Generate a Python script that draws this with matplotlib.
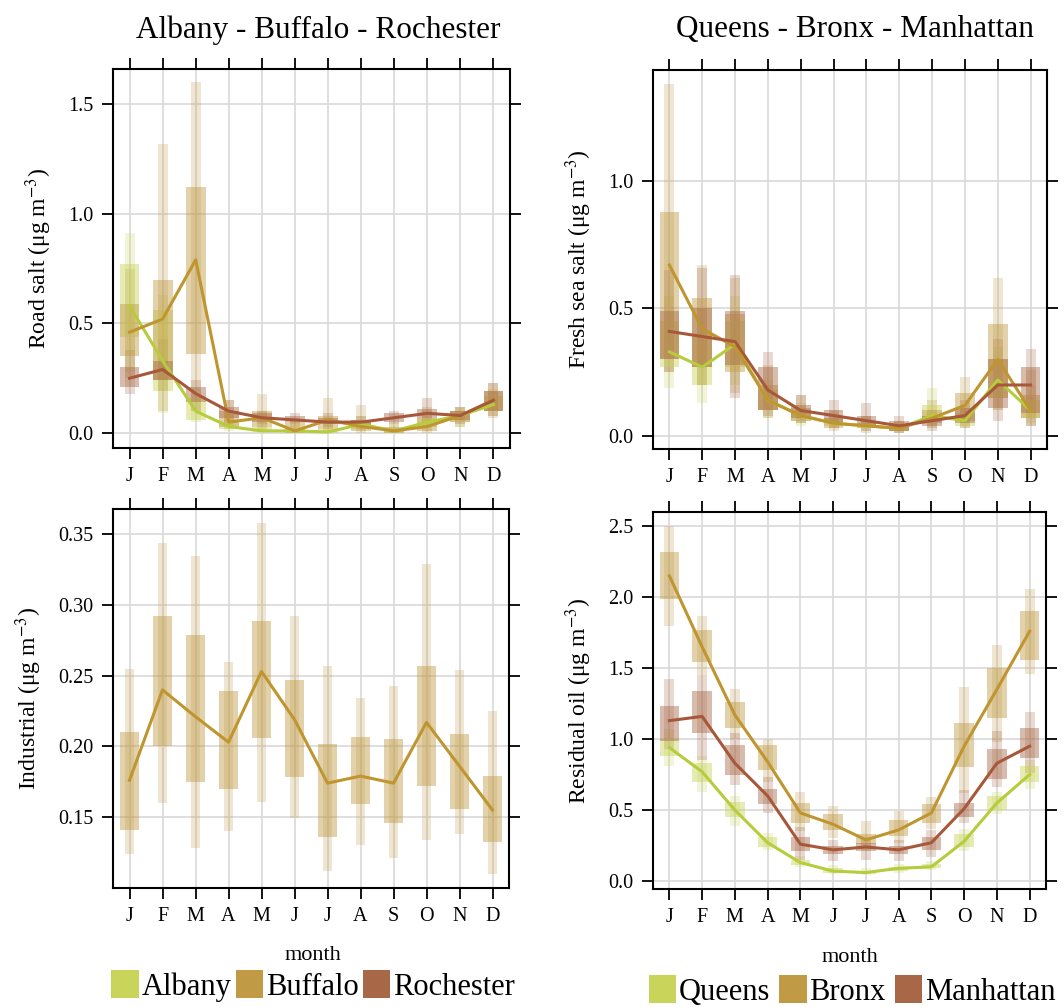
import numpy as np
import matplotlib
matplotlib.use("Agg")
import matplotlib.pyplot as plt
from matplotlib.patches import Rectangle, Patch

plt.rcParams['font.family'] = ['Liberation Serif', 'DejaVu Serif']
plt.rcParams['mathtext.fontset'] = 'stix'

months = ['J', 'F', 'M', 'A', 'M', 'J', 'J', 'A', 'S', 'O', 'N', 'D']

# ---- Road salt (upstate) ----
albany_med = [0.58, 0.33, 0.10, 0.03, 0.01, 0.01, 0.005, 0.04, 0.01, 0.05, 0.08, 0.13]
albany_q1 = [0.44, 0.19, 0.06, 0.02, 0.005, 0.0, 0.0, 0.02, 0.0, 0.03, 0.05, 0.10]
albany_q3 = [0.77, 0.56, 0.16, 0.05, 0.03, 0.02, 0.02, 0.06, 0.02, 0.07, 0.10, 0.17]
albany_lo = [0.28, 0.09, 0.05, 0.01, 0.0, 0.0, 0.0, 0.01, 0.0, 0.01, 0.03, 0.08]
albany_hi = [0.91, 0.63, 0.20, 0.08, 0.05, 0.04, 0.04, 0.08, 0.04, 0.10, 0.12, 0.20]

buffalo_med = [0.46, 0.52, 0.79, 0.05, 0.07, 0.01, 0.06, 0.03, 0.01, 0.03, 0.08, 0.15]
buffalo_q1 = [0.35, 0.24, 0.36, 0.03, 0.03, 0.0, 0.02, 0.01, 0.0, 0.01, 0.05, 0.10]
buffalo_q3 = [0.59, 0.70, 1.12, 0.10, 0.10, 0.05, 0.08, 0.06, 0.03, 0.07, 0.10, 0.19]
buffalo_lo = [0.25, 0.10, 0.10, 0.02, 0.01, 0.0, 0.0, 0.0, 0.0, 0.0, 0.03, 0.07]
buffalo_hi = [0.75, 1.32, 1.60, 0.15, 0.18, 0.07, 0.16, 0.13, 0.05, 0.12, 0.12, 0.23]

rochester_med = [0.25, 0.29, 0.18, 0.10, 0.07, 0.06, 0.05, 0.05, 0.07, 0.09, 0.08, 0.15]
rochester_q1 = [0.21, 0.24, 0.14, 0.07, 0.05, 0.05, 0.04, 0.03, 0.05, 0.07, 0.06, 0.10]
rochester_q3 = [0.30, 0.33, 0.21, 0.12, 0.09, 0.08, 0.07, 0.06, 0.09, 0.11, 0.10, 0.19]
rochester_lo = [0.18, 0.19, 0.10, 0.05, 0.04, 0.04, 0.03, 0.02, 0.04, 0.05, 0.04, 0.08]
rochester_hi = [0.38, 0.43, 0.24, 0.15, 0.10, 0.09, 0.09, 0.08, 0.10, 0.16, 0.12, 0.23]

# ---- Industrial (Buffalo) ----
ind_med = [0.176, 0.240, 0.221, 0.203, 0.253, 0.219, 0.174, 0.179, 0.174, 0.217, 0.186, 0.155]
ind_q1 = [0.141, 0.200, 0.175, 0.170, 0.206, 0.178, 0.136, 0.159, 0.146, 0.172, 0.156, 0.132]
ind_q3 = [0.210, 0.292, 0.279, 0.239, 0.289, 0.247, 0.202, 0.207, 0.205, 0.257, 0.209, 0.179]
ind_lo = [0.124, 0.160, 0.128, 0.140, 0.161, 0.149, 0.112, 0.130, 0.121, 0.134, 0.138, 0.110]
ind_hi = [0.255, 0.344, 0.335, 0.260, 0.358, 0.292, 0.257, 0.234, 0.243, 0.329, 0.254, 0.225]

# ---- Fresh sea salt (NYC) ----
queens_ss_med = [0.33, 0.27, 0.36, 0.14, 0.08, 0.05, 0.04, 0.03, 0.08, 0.06, 0.22, 0.10]
queens_ss_q1 = [0.27, 0.20, 0.27, 0.10, 0.06, 0.04, 0.03, 0.02, 0.05, 0.04, 0.15, 0.07]
queens_ss_q3 = [0.45, 0.40, 0.45, 0.18, 0.10, 0.07, 0.05, 0.04, 0.12, 0.09, 0.30, 0.14]
queens_ss_lo = [0.19, 0.13, 0.20, 0.07, 0.04, 0.03, 0.02, 0.01, 0.03, 0.03, 0.10, 0.05]
queens_ss_hi = [0.55, 0.50, 0.55, 0.22, 0.13, 0.09, 0.08, 0.06, 0.19, 0.12, 0.35, 0.20]

bronx_ss_med = [0.67, 0.42, 0.35, 0.14, 0.08, 0.05, 0.04, 0.03, 0.07, 0.12, 0.30, 0.10]
bronx_ss_q1 = [0.30, 0.27, 0.25, 0.10, 0.06, 0.03, 0.03, 0.02, 0.05, 0.06, 0.15, 0.07]
bronx_ss_q3 = [0.88, 0.54, 0.48, 0.20, 0.11, 0.07, 0.05, 0.04, 0.10, 0.17, 0.44, 0.16]
bronx_ss_lo = [0.25, 0.20, 0.17, 0.07, 0.05, 0.02, 0.01, 0.01, 0.03, 0.04, 0.10, 0.04]
bronx_ss_hi = [1.38, 0.67, 0.62, 0.28, 0.16, 0.10, 0.08, 0.06, 0.14, 0.23, 0.62, 0.26]

manh_ss_med = [0.41, 0.39, 0.37, 0.18, 0.10, 0.08, 0.06, 0.04, 0.06, 0.08, 0.20, 0.20]
manh_ss_q1 = [0.30, 0.27, 0.28, 0.10, 0.07, 0.05, 0.04, 0.02, 0.04, 0.05, 0.11, 0.09]
manh_ss_q3 = [0.49, 0.50, 0.49, 0.27, 0.12, 0.10, 0.08, 0.06, 0.08, 0.11, 0.30, 0.27]
manh_ss_lo = [0.25, 0.20, 0.15, 0.08, 0.05, 0.03, 0.02, 0.01, 0.02, 0.03, 0.06, 0.04]
manh_ss_hi = [0.65, 0.66, 0.63, 0.33, 0.16, 0.14, 0.13, 0.08, 0.10, 0.14, 0.38, 0.34]

# ---- Residual oil (NYC) ----
queens_oil_med = [0.94, 0.77, 0.50, 0.27, 0.13, 0.07, 0.06, 0.09, 0.10, 0.28, 0.55, 0.75]
queens_oil_q1 = [0.88, 0.70, 0.45, 0.24, 0.11, 0.06, 0.05, 0.07, 0.09, 0.24, 0.50, 0.70]
queens_oil_q3 = [1.00, 0.83, 0.56, 0.31, 0.15, 0.09, 0.07, 0.10, 0.12, 0.33, 0.60, 0.81]
queens_oil_lo = [0.81, 0.63, 0.39, 0.22, 0.10, 0.05, 0.04, 0.06, 0.08, 0.21, 0.47, 0.65]
queens_oil_hi = [1.07, 0.88, 0.60, 0.34, 0.18, 0.11, 0.09, 0.12, 0.14, 0.37, 0.63, 0.85]

bronx_oil_med = [2.15, 1.65, 1.17, 0.84, 0.48, 0.40, 0.29, 0.36, 0.48, 0.95, 1.35, 1.76]
bronx_oil_q1 = [1.99, 1.54, 1.08, 0.78, 0.41, 0.36, 0.26, 0.32, 0.41, 0.80, 1.15, 1.56]
bronx_oil_q3 = [2.32, 1.77, 1.26, 0.96, 0.55, 0.47, 0.33, 0.43, 0.54, 1.11, 1.50, 1.90]
bronx_oil_lo = [1.80, 1.45, 1.00, 0.70, 0.35, 0.30, 0.22, 0.27, 0.37, 0.62, 0.98, 1.46]
bronx_oil_hi = [2.50, 1.87, 1.35, 1.00, 0.63, 0.53, 0.42, 0.49, 0.59, 1.37, 1.66, 2.06]

manh_oil_med = [1.13, 1.16, 0.83, 0.60, 0.26, 0.22, 0.24, 0.22, 0.27, 0.51, 0.83, 0.95]
manh_oil_q1 = [0.99, 1.04, 0.75, 0.54, 0.21, 0.19, 0.21, 0.19, 0.22, 0.45, 0.72, 0.87]
manh_oil_q3 = [1.23, 1.34, 0.96, 0.65, 0.31, 0.25, 0.27, 0.25, 0.31, 0.55, 0.93, 1.08]
manh_oil_lo = [0.93, 0.85, 0.68, 0.48, 0.15, 0.14, 0.15, 0.14, 0.17, 0.41, 0.66, 0.76]
manh_oil_hi = [1.42, 1.45, 1.04, 0.73, 0.38, 0.29, 0.31, 0.29, 0.36, 0.64, 1.06, 1.19]

green_fill, gold_fill, brown_fill = '#c8d45a', '#c09a45', '#a86848'
green_line, gold_line, brown_line = '#b6cc3c', '#bf9530', '#a8583a'

W, H = 1064, 1007
fig = plt.figure(figsize=(W / 100, H / 100), dpi=100)


def px_axes(x0, x1, y0, y1):
    return fig.add_axes([x0 / W, 1 - y1 / H, (x1 - x0) / W, (y1 - y0) / H])


def draw_panel(ax, series, ylim, yticks, ylabels, ylabel):
    x = np.arange(1, 13)
    ax.set_xlim(0.5, 12.5)
    ax.set_ylim(*ylim)
    for v in x:
        ax.axvline(v, color='#d9d9d9', lw=1.2, zorder=0)
    for v in yticks:
        ax.axhline(v, color='#d9d9d9', lw=1.2, zorder=0)
    for med, q1, q3, lo, hi, fc, lc in series:
        for i in range(12):
            ax.add_patch(Rectangle((x[i] - 0.15, lo[i]), 0.3, hi[i] - lo[i],
                                   facecolor=fc, alpha=0.25, lw=0, zorder=1))
            ax.add_patch(Rectangle((x[i] - 0.3, q1[i]), 0.6, q3[i] - q1[i],
                                   facecolor=fc, alpha=0.45, lw=0, zorder=2))
    for med, q1, q3, lo, hi, fc, lc in series:
        ax.plot(x, med, color=lc, lw=2.2, zorder=3)
    ax.set_xticks(x)
    ax.set_xticklabels(months, fontsize=14.5)
    ax.set_yticks(yticks)
    ax.set_yticklabels(ylabels, fontsize=14.5)
    ax.tick_params(direction='out', length=8, width=1.3, top=True, right=True,
                   labeltop=False, labelright=False, pad=6)
    for s in ax.spines.values():
        s.set_linewidth(1.5)
    ax.set_ylabel(ylabel, fontsize=17, labelpad=10)


ax1 = px_axes(113, 510, 69, 448)
draw_panel(ax1, [
    (albany_med, albany_q1, albany_q3, albany_lo, albany_hi, green_fill, green_line),
    (buffalo_med, buffalo_q1, buffalo_q3, buffalo_lo, buffalo_hi, gold_fill, gold_line),
    (rochester_med, rochester_q1, rochester_q3, rochester_lo, rochester_hi, brown_fill, brown_line),
], (-0.068, 1.66), [0, 0.5, 1.0, 1.5], ['0.0', '0.5', '1.0', '1.5'],
    'Road salt (μg m$^{-3}$)')

ax2 = px_axes(653, 1047, 70, 449)
draw_panel(ax2, [
    (queens_ss_med, queens_ss_q1, queens_ss_q3, queens_ss_lo, queens_ss_hi, green_fill, green_line),
    (bronx_ss_med, bronx_ss_q1, bronx_ss_q3, bronx_ss_lo, bronx_ss_hi, gold_fill, gold_line),
    (manh_ss_med, manh_ss_q1, manh_ss_q3, manh_ss_lo, manh_ss_hi, brown_fill, brown_line),
], (-0.051, 1.435), [0, 0.5, 1.0], ['0.0', '0.5', '1.0'],
    'Fresh sea salt (μg m$^{-3}$)')

ax3 = px_axes(113, 509, 509, 888)
draw_panel(ax3, [
    (ind_med, ind_q1, ind_q3, ind_lo, ind_hi, gold_fill, gold_line),
], (0.0998, 0.368), [0.15, 0.20, 0.25, 0.30, 0.35], ['0.15', '0.20', '0.25', '0.30', '0.35'],
    'Industrial (μg m$^{-3}$)')

ax4 = px_axes(653, 1046, 512, 889)
draw_panel(ax4, [
    (queens_oil_med, queens_oil_q1, queens_oil_q3, queens_oil_lo, queens_oil_hi, green_fill, green_line),
    (bronx_oil_med, bronx_oil_q1, bronx_oil_q3, bronx_oil_lo, bronx_oil_hi, gold_fill, gold_line),
    (manh_oil_med, manh_oil_q1, manh_oil_q3, manh_oil_lo, manh_oil_hi, brown_fill, brown_line),
], (-0.056, 2.6), [0, 0.5, 1.0, 1.5, 2.0, 2.5], ['0.0', '0.5', '1.0', '1.5', '2.0', '2.5'],
    'Residual oil (μg m$^{-3}$)')

fig.text(318 / W, 1 - 30 / H, 'Albany - Buffalo - Rochester', ha='center', va='center', fontsize=22.5)
fig.text(855 / W, 1 - 30 / H, 'Queens - Bronx - Manhattan', ha='center', va='center', fontsize=22.5)
fig.text(313 / W, 1 - 955 / H, 'month', ha='center', va='center', fontsize=16)
fig.text(850 / W, 1 - 958 / H, 'month', ha='center', va='center', fontsize=16)

leg_kw = dict(ncol=3, frameon=False, fontsize=22, handlelength=0.9, handleheight=1.0,
              handletextpad=0.08, borderpad=0, loc='center')
fig.legend([Patch(facecolor=green_fill), Patch(facecolor=gold_fill), Patch(facecolor=brown_fill)],
           ['Albany', 'Buffalo', 'Rochester'], bbox_to_anchor=(313 / W, 1 - 986 / H),
           columnspacing=0.15, **leg_kw)
fig.legend([Patch(facecolor=green_fill), Patch(facecolor=gold_fill), Patch(facecolor=brown_fill)],
           ['Queens', 'Bronx', 'Manhattan'], bbox_to_anchor=(852 / W, 1 - 991 / H),
           columnspacing=0.3, **leg_kw)

fig.savefig('out.png', dpi=100)
